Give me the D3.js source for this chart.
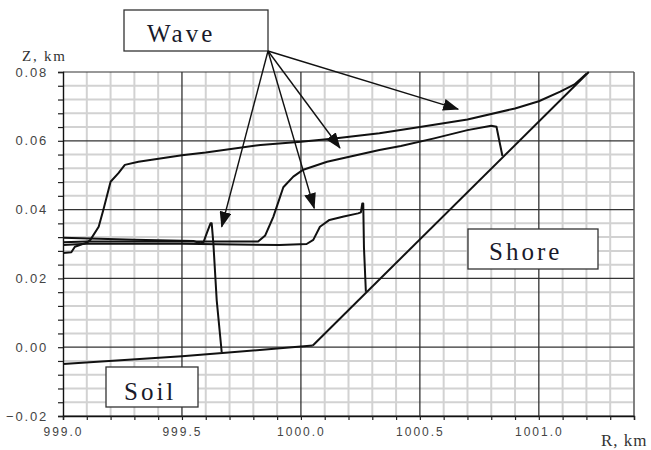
<!DOCTYPE html>
<html>
<head>
<meta charset="utf-8">
<script src="https://cdn.jsdelivr.net/npm/d3@7/dist/d3.min.js"></script>
<style>
  html, body { margin: 0; padding: 0; background: #fff; }
  svg { display: block; }
</style>
</head>
<body>
<svg id="chart" width="651" height="450"></svg>
<script>
// Free-surface profiles of a run-up wave at successive moments, R in km, Z in km
const waveA = [[999.0,0.0274],[999.035,0.0276],[999.05,0.0292],[999.1,0.0304],[999.115,0.0312],
  [999.15,0.035],[999.17,0.040],[999.2,0.0481],[999.233,0.0506],[999.26,0.053],[999.317,0.0539],
  [999.5,0.0558],[999.6,0.0566],[999.83,0.0588],[1000.0,0.0597],[1000.14,0.0607],[1000.33,0.0622],
  [1000.5,0.0640],[1000.7,0.0662],[1000.9,0.0694],[1001.0,0.0715],[1001.09,0.0743],[1001.15,0.0764],
  [1001.2,0.0795]];
const waveB = [[999.0,0.0305],[999.1,0.0307],[999.82,0.0307],[999.85,0.0325],[999.884,0.0379],
  [999.926,0.0465],[999.968,0.0496],[1000.01,0.0516],[1000.11,0.0539],[1000.33,0.0573],[1000.42,0.0585],
  [1000.56,0.0607],[1000.7,0.0631],[1000.8,0.0644],[1000.822,0.0641],[1000.836,0.0593],[1000.847,0.0556]];
const waveC = [[999.0,0.0297],[999.1,0.0301],[999.5,0.0301],[999.91,0.0297],[1000.024,0.030],
  [1000.052,0.0312],[1000.08,0.035],[1000.12,0.037],[1000.18,0.038],[1000.24,0.0389],[1000.252,0.0392],
  [1000.258,0.0418],[1000.262,0.0418],[1000.265,0.029],[1000.273,0.0161]];
const waveD = [[999.0,0.0318],[999.3,0.0312],[999.548,0.0309],[999.576,0.0302],[999.59,0.0304],
  [999.604,0.0331],[999.62,0.036],[999.625,0.036],[999.632,0.0302],[999.646,0.0137],[999.667,-0.0014]];
// Bottom: sloping soil, then the shore slope
const soil = [[999.0,-0.0049],[999.5,-0.0026],[999.67,-0.0017],[999.9,-0.0004],[1000.05,0.0005]];
const shore = [[1000.05,0.0005],[1001.21,0.0800]];

// Axis ticks
const xMajorTicks = [999.0, 999.5, 1000.0, 1000.5, 1001.0];
const yMajorTicks = [-0.02, 0.00, 0.02, 0.04, 0.06, 0.08];
const xMinorStep = 0.1;
const yMinorStep = 0.004;

// Annotation arrow targets (R, Z) for the "Wave" label
const waveArrowTargets = [[1000.661,0.0692],[1000.164,0.0579],[1000.056,0.0404],[999.667,0.0350]];

const svg = d3.select("#chart");
const x = d3.scaleLinear().domain([999.0, 1001.4]).range([63, 634]);
const y = d3.scaleLinear().domain([-0.02, 0.08]).range([416, 72]);

const xMinor = d3.range(0, 25).map(i => +(999.0 + i * xMinorStep).toFixed(3));
const yMinor = d3.range(0, 26).map(i => +(-0.02 + i * yMinorStep).toFixed(4));
const isMajorX = v => xMajorTicks.some(t => Math.abs(t - v) < 1e-6);
const isMajorY = v => yMajorTicks.some(t => Math.abs(t - v) < 1e-7);

// Light minor grid
const grid = svg.append("g");
grid.selectAll("line.vx").data(xMinor.filter(v => !isMajorX(v) && v > 999.0)).join("line")
  .attr("x1", d => x(d)).attr("x2", d => x(d)).attr("y1", y(0.08)).attr("y2", y(-0.02))
  .attr("stroke", "#d2d2d2").attr("stroke-width", 2);
grid.selectAll("line.hy").data(yMinor.filter(v => !isMajorY(v))).join("line")
  .attr("x1", x(999.0)).attr("x2", x(1001.4)).attr("y1", d => y(d)).attr("y2", d => y(d))
  .attr("stroke", "#d2d2d2").attr("stroke-width", 2);
// Dark major grid
grid.selectAll("line.mx").data(xMajorTicks.slice(1)).join("line")
  .attr("x1", d => x(d)).attr("x2", d => x(d)).attr("y1", y(0.08)).attr("y2", y(-0.02))
  .attr("stroke", "#333").attr("stroke-width", 1.3);
grid.selectAll("line.my").data(yMajorTicks).join("line")
  .attr("x1", x(999.0)).attr("x2", x(1001.4)).attr("y1", d => y(d)).attr("y2", d => y(d))
  .attr("stroke", "#333").attr("stroke-width", 1.2);
// Right border
grid.append("line").attr("x1", x(1001.4)).attr("x2", x(1001.4)).attr("y1", y(0.08)).attr("y2", y(-0.02))
  .attr("stroke", "#555").attr("stroke-width", 1.3);

// Axes
const yAxis = d3.axisLeft(y).tickValues(yMinor).tickSize(5).tickPadding(10)
  .tickFormat(d => isMajorY(d) ? d3.format(".2f")(d) : "");
const xAxis = d3.axisBottom(x).tickValues(xMinor).tickSize(4).tickPadding(7)
  .tickFormat(d => isMajorX(d) ? d3.format(".1f")(d) : "");

const gy = svg.append("g").attr("transform", `translate(${x(999.0)},0)`).call(yAxis);
const gx = svg.append("g").attr("transform", `translate(0,${y(-0.02)})`).call(xAxis);
[gx, gy].forEach(g => {
  g.select(".domain").attr("stroke", "#111").attr("stroke-width", 1.4);
  g.selectAll(".tick line").attr("stroke", "#222").attr("stroke-width", 1.2);
  g.selectAll(".tick text").attr("fill", "#444")
    .style("font-family", "'Liberation Sans', Arial, sans-serif");
});
gy.selectAll(".tick text").style("font-size", "13px").style("letter-spacing", "1.8px");
gx.selectAll(".tick text").style("font-size", "12px").style("letter-spacing", "2px");

// Axis titles
svg.append("text").attr("x", 22).attr("y", 61).text("Z, km")
  .style("font-family", "'Liberation Serif', 'Times New Roman', serif").style("font-size", "15px")
  .style("letter-spacing", "1.8px").attr("fill", "#333");
svg.append("text").attr("x", 601).attr("y", 446).text("R, km")
  .style("font-family", "'Liberation Serif', 'Times New Roman', serif").style("font-size", "17px")
  .style("letter-spacing", "1px").attr("fill", "#333");

// Profiles
const line = d3.line().x(d => x(d[0])).y(d => y(d[1]));
const curves = svg.append("g").attr("fill", "none").attr("stroke", "#111")
  .attr("stroke-width", 2).attr("stroke-linejoin", "round");
[waveA, waveB, waveC, waveD, soil, shore].forEach(c => curves.append("path").attr("d", line(c)));

// Labels with boxes
const serif = "'Liberation Serif', 'Times New Roman', serif";
function labelBox(bx, by, bw, bh, tx, ty, txt, fs, ls) {
  svg.append("rect").attr("x", bx).attr("y", by).attr("width", bw).attr("height", bh)
    .attr("fill", "#fff").attr("stroke", "#333").attr("stroke-width", 1.3);
  svg.append("text").attr("x", tx).attr("y", ty).text(txt)
    .style("font-family", serif).style("font-size", fs + "px").style("letter-spacing", ls + "px")
    .attr("fill", "#1a1a2a");
}
labelBox(124, 10, 144, 41, 147, 42, "Wave", 25, 3);
labelBox(106, 367, 92, 40, 124, 400, "Soil", 25, 3);
labelBox(468, 229, 130, 40, 489, 260, "Shore", 25, 3);

// Arrows from the "Wave" box corner
const defs = svg.append("defs");
defs.append("marker").attr("id", "head").attr("markerUnits", "userSpaceOnUse")
  .attr("markerWidth", 16).attr("markerHeight", 12).attr("viewBox", "0 0 16 12")
  .attr("refX", 15).attr("refY", 6).attr("orient", "auto")
  .append("path").attr("d", "M0,0 L16,6 L0,12 Z").attr("fill", "#111");
const origin = [268, 51];
svg.append("g").selectAll("line").data(waveArrowTargets).join("line")
  .attr("x1", origin[0]).attr("y1", origin[1])
  .attr("x2", d => x(d[0])).attr("y2", d => y(d[1]))
  .attr("stroke", "#111").attr("stroke-width", 1.4).attr("marker-end", "url(#head)");
</script>
</body>
</html>
